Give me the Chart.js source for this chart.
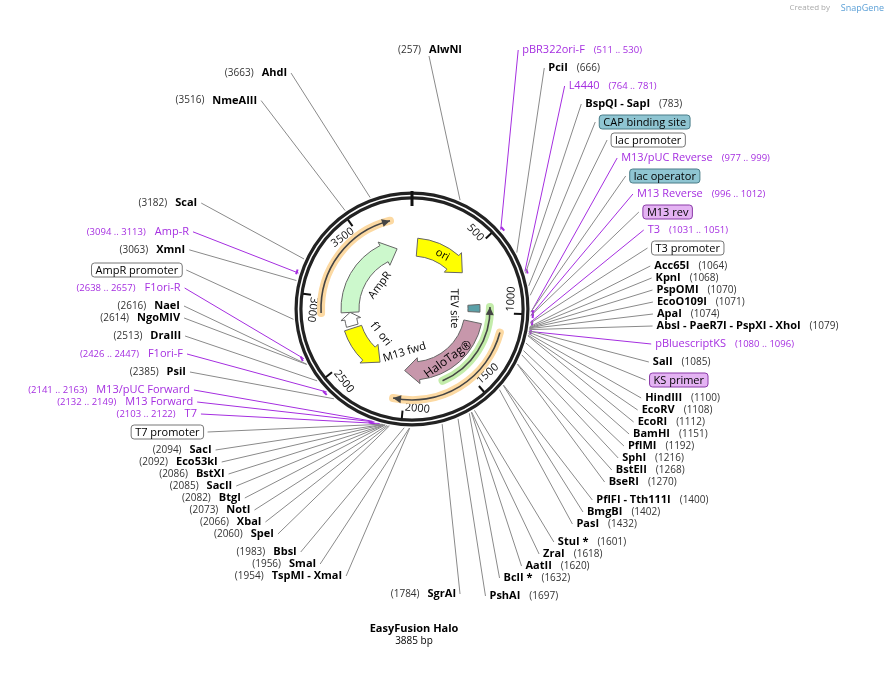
<!DOCTYPE html>
<html><head><meta charset="utf-8">
<script src="https://cdn.jsdelivr.net/npm/chart.js@4"></script>
<style>html,body{margin:0;padding:0;background:#fff}#w{width:893px;height:678px}</style>
</head><body><div id="w"><canvas id="c"></canvas></div>
<script>
const plasmidName = "EasyFusion Halo";
const plasmidLength = 3885;
const tickLabels = [500, 1000, 1500, 2000, 2500, 3000, 3500];
// right side labels: [kind, name, start, end]  kind: e=enzyme p=primer b=boxed feature
const rightLabels = [
 ["p","pBR322ori-F",511,530],["e","PciI",666],["p","L4440",764,781],["e","BspQI - SapI",783],
 ["bt","CAP binding site",850],["bw","lac promoter",900],["p","M13/pUC Reverse",977,999],
 ["bt","lac operator",985],["p","M13 Reverse",996,1012],["bp","M13 rev",1006],["p","T3",1031,1051],
 ["bw","T3 promoter",1045],["e","Acc65I",1064],["e","KpnI",1068],["e","PspOMI",1070],["e","EcoO109I",1071],
 ["e","ApaI",1074],["e","AbsI - PaeR7I - PspXI - XhoI",1079],["p","pBluescriptKS",1080,1096],["e","SalI",1085],
 ["bp","KS primer",1092],["e","HindIII",1100],["e","EcoRV",1108],["e","EcoRI",1112],["e","BamHI",1151],
 ["e","PflMI",1192],["e","SphI",1216],["e","BstEII",1268],["e","BseRI",1270],["e","PflFI - Tth111I",1400],
 ["e","BmgBI",1402],["e","PasI",1432],["e","StuI *",1601],["e","ZraI",1618],["e","AatII",1620],
 ["e","BclI *",1632],["e","PshAI",1697]
];
const leftLabels = [
 ["e","AhdI",3663],["e","NmeAIII",3516],["e","ScaI",3182],["p","Amp-R",3094,3113],["e","XmnI",3063],
 ["bw","AmpR promoter",2860],["p","F1ori-R",2638,2657],["e","NaeI",2616],["e","NgoMIV",2614],["e","DraIII",2513],
 ["p","F1ori-F",2426,2447],["e","PsiI",2385],["p","M13/pUC Forward",2141,2163],["p","M13 Forward",2132,2149],
 ["p","T7",2103,2122],["bw","T7 promoter",2098],["e","SacI",2094],["e","Eco53kI",2092],["e","BstXI",2086],
 ["e","SacII",2085],["e","BtgI",2082],["e","NotI",2073],["e","XbaI",2066],["e","SpeI",2060],["e","BbsI",1983],
 ["e","SmaI",1956],["e","TspMI - XmaI",1954],["e","SgrAI",1784]
];
const topLabels = [["e","AlwNI",257]];
// features: name, start, end, direction (1 clockwise, -1 counter)
const featureNames = ["ori","AmpR","AmpR promoter","f1 ori","HaloTag®","TEV site"];
const featureStart = [50, 2880, 2745, 2277, 1100, 930];
const featureEnd   = [585, 3735, 2880, 2720, 2016, 1000];
const featureDir   = [1, 1, 1, -1, 1, 1];
const orfNames = ["orfLeft","orfRight","orfGreen"];
const orfStart = [2886, 1133, 955];
const orfEnd   = [3734, 2072, 1694];
const orfDir   = [1, 1, -1];

const featureStyle = {
 "ori":{fill:"#ffff00",r:62,w:18,label:"ori",lr:62},
 "AmpR":{fill:"#ccf8cc",r:62,w:18,label:"AmpR",lr:40},
 "AmpR promoter":{fill:"#ffffff",r:62,w:12,label:"",lr:0},
 "f1 ori":{fill:"#ffff00",r:62,w:18,label:"f1 ori",lr:40},
 "HaloTag®":{fill:"#c797ab",r:62,w:18,label:"HaloTag®",lr:62},
 "TEV site":{fill:"#5aa0a8",r:62,w:12,label:"TEV site",lr:42}
};
const orfStyle = {orfLeft:{c:"#fcd9a2",r:91},orfRight:{c:"#fcd9a2",r:91},orfGreen:{c:"#c3ecaa",r:78}};

const CX=412, CY=309;
const purple="#a52ee0";

new Chart(document.getElementById('c'),{
 type:'scatter',
 data:{datasets:[{data:[]}]},
 options:{responsive:true,maintainAspectRatio:false,animation:false,
  layout:{padding:0},
  plugins:{legend:{display:false},tooltip:{enabled:false}},
  scales:{x:{type:'linear',min:0,max:893,display:false},y:{type:'linear',min:0,max:678,reverse:true,display:false}}},
 plugins:[{id:'map',afterDatasetsDraw(chart){
  const ctx=chart.ctx, sx=chart.scales.x, sy=chart.scales.y;
  const X=v=>sx.getPixelForValue(v), Y=v=>sy.getPixelForValue(v);
  const ang=p=>p/plasmidLength*2*Math.PI;
  const pol=(p,r)=>({x:X(CX+r*Math.sin(ang(p))),y:Y(CY-r*Math.cos(ang(p)))});
  const cx=X(CX), cy=Y(CY);
  const ca=p=>ang(p)-Math.PI/2;
  const F="'Open Sans', 'DejaVu Sans', sans-serif";

  function layout(list,side){
   const items=list.map(l=>{
    const mid=l[3]?(l[2]+l[3])/2:l[2];
    return {l,mid,ideal:CY-252*Math.cos(ang(mid))};
   });
   const gapOf=(p,q)=>(p.l[0]===q.l[0]&&(p.l[0]==="e"||p.l[0]==="p")&&Math.abs(p.l[2]-q.l[2])<60)?12:18;
   let blocks=items.map(it=>({its:[it]}));
   const place=b=>{let off=0,sum=0;b.its.forEach((it,i)=>{if(i>0)off+=gapOf(b.its[i-1],it);it.off=off;sum+=it.ideal-off;});
     b.s=off;b.top=sum/b.its.length;b.top=Math.max(50,Math.min(594-b.s,b.top));};
   blocks.forEach(place);
   let changed=true;
   while(changed){changed=false;
    for(let i=0;i<blocks.length-1;i++){
     const a=blocks[i],b=blocks[i+1];
     const gap=gapOf(a.its[a.its.length-1],b.its[0]);
     if(a.top+a.s+gap>b.top){blocks.splice(i,2,{its:a.its.concat(b.its)});place(blocks[i]);changed=true;break;}
    }}
   blocks.forEach(b=>b.its.forEach(it=>it.y=b.top+it.off));
   items.forEach(it=>{
    const dy=it.y-CY;
    if(side>0){const f=Math.sqrt(Math.max(0.1,1-(dy/290)*(dy/290)));it.x=CX+245*f;}
    else{const f=1-(dy/280)*(dy/280);const o=f>=0?232*Math.sqrt(f):-232*Math.sqrt(-f);it.x=CX-o;}
   });
   return items;
  }
  const R=layout(rightLabels,1), L=layout(leftLabels,-1);

  function leader(it,endx){
   const isP=it.l[0]==="p";
   const s=pol(it.mid,119);
   ctx.strokeStyle=isP?purple:"#8a8a8a";ctx.lineWidth=1;
   ctx.beginPath();ctx.moveTo(s.x,s.y);ctx.lineTo(X(endx),Y(it.y));ctx.stroke();
   if(isP){
    ctx.strokeStyle=purple;ctx.lineWidth=2;ctx.beginPath();
    ctx.arc(cx,cy,121,ca(it.l[2]),ca(it.l[3])+0.01);ctx.stroke();
   }
  }
  R.forEach(it=>leader(it,it.x-4));
  L.forEach(it=>leader(it,it.x+4));
  topLabels.forEach(l=>{
   const s=pol(l[2],119);ctx.strokeStyle="#8a8a8a";ctx.lineWidth=1;
   ctx.beginPath();ctx.moveTo(s.x,s.y);ctx.lineTo(X(CX+17),Y(56));ctx.stroke();
   ctx.textBaseline="middle";ctx.textAlign="right";
   ctx.fillStyle="#000";ctx.font="bold 11px "+F;ctx.fillText(l[1],X(CX+50),Y(50));
   const w=ctx.measureText(l[1]).width;ctx.fillStyle="#333";ctx.font="10px "+F;
   ctx.fillText("("+l[2]+")",X(CX+50)-w-8,Y(50));
  });

  function drawLabel(it,side){
   const l=it.l,k=l[0];const x=X(it.x),y=Y(it.y);
   ctx.textBaseline="middle";
   if(k==="e"){
    ctx.font="bold 11px "+F;const w=ctx.measureText(l[1]).width;
    const n="("+l[2]+")";
    if(side>0){ctx.textAlign="left";ctx.fillStyle="#000";ctx.font="bold 11px "+F;ctx.fillText(l[1],x,y);
      ctx.fillStyle="#333";ctx.font="10px "+F;ctx.fillText(n,x+w+9,y);}
    else{ctx.textAlign="right";ctx.fillStyle="#000";ctx.font="bold 11px "+F;ctx.fillText(l[1],x,y);
      ctx.fillStyle="#333";ctx.font="10px "+F;ctx.fillText(n,x-w-8,y);}
   } else if(k==="p"){
    ctx.font="11px "+F;const w=ctx.measureText(l[1]).width;const n="("+l[2]+" .. "+l[3]+")";
    ctx.fillStyle=purple;
    if(side>0){ctx.textAlign="left";ctx.fillText(l[1],x,y);ctx.font="9.5px "+F;ctx.fillText(n,x+w+9,y);}
    else{ctx.textAlign="right";ctx.fillText(l[1],x,y);ctx.font="9.5px "+F;ctx.fillText(n,x-w-9,y);}
   } else {
    ctx.font="11px "+F;const w=ctx.measureText(l[1]).width;
    const bx=side>0?x:x-w-8;
    const fill=k==="bt"?"#8fc5d2":k==="bp"?"#e4b3f3":"#ffffff";
    const st=k==="bt"?"#4a7d88":k==="bp"?"#8a3aa8":"#777";
    ctx.beginPath();ctx.roundRect(bx,y-7,w+8,14,3);ctx.fillStyle=fill;ctx.fill();
    ctx.strokeStyle=st;ctx.lineWidth=1;ctx.stroke();
    ctx.fillStyle="#000";ctx.textAlign="left";ctx.fillText(l[1],bx+4,y+0.5);
   }
  }
  R.forEach(it=>drawLabel(it,1));L.forEach(it=>drawLabel(it,-1));

  ctx.beginPath();ctx.arc(cx,cy,113.5,0,2*Math.PI);ctx.strokeStyle="#222";ctx.lineWidth=8;ctx.stroke();
  ctx.beginPath();ctx.arc(cx,cy,113.5,0,2*Math.PI);ctx.strokeStyle="#fff";ctx.lineWidth=1.6;ctx.stroke();
  let a=pol(0,118),b=pol(0,103);ctx.strokeStyle="#111";ctx.lineWidth=3;ctx.beginPath();ctx.moveTo(a.x,a.y);ctx.lineTo(b.x,b.y);ctx.stroke();
  tickLabels.forEach(t=>{
   const p1=pol(t,110),p2=pol(t,102);ctx.strokeStyle="#111";ctx.lineWidth=2;
   ctx.beginPath();ctx.moveTo(p1.x,p1.y);ctx.lineTo(p2.x,p2.y);ctx.stroke();
   const deg=t/plasmidLength*360;const p=pol(t,104);
   ctx.save();ctx.translate(p.x,p.y);
   ctx.font="11px "+F;ctx.fillStyle="#111";
   if(deg>90&&deg<300){ctx.rotate((deg-180)*Math.PI/180);ctx.textAlign="left";ctx.textBaseline="bottom";ctx.fillText(String(t),2,0);}
   else{ctx.rotate(deg*Math.PI/180);ctx.textAlign="right";ctx.textBaseline="top";ctx.fillText(String(t),-2,0);}
   ctx.restore();
  });

  orfNames.forEach((n,i)=>{
   const s=orfStyle[n];const a0=ca(orfStart[i]),a1=ca(orfEnd[i]);
   ctx.lineCap="round";
   ctx.beginPath();ctx.arc(cx,cy,s.r,a0,a1);ctx.strokeStyle=s.c;ctx.lineWidth=8;ctx.stroke();
   ctx.lineCap="butt";
   ctx.beginPath();ctx.arc(cx,cy,s.r,a0,a1);ctx.strokeStyle="#444";ctx.lineWidth=1.6;ctx.stroke();
   const tip=orfDir[i]>0?orfEnd[i]:orfStart[i];const tA=ang(tip);
   const d=orfDir[i];const back=tA-d*8/s.r;
   const pt=(aa,r)=>({x:cx+r*Math.sin(aa),y:cy-r*Math.cos(aa)});
   const q=pt(tA,s.r),u=pt(back,s.r+4),v=pt(back,s.r-4);
   ctx.fillStyle="#444";ctx.beginPath();ctx.moveTo(q.x,q.y);ctx.lineTo(u.x,u.y);ctx.lineTo(v.x,v.y);ctx.closePath();ctx.fill();
  });

  featureNames.forEach((n,i)=>{
   const s=featureStyle[n];const d=featureDir[i];
   const A0=ang(featureStart[i]),A1=ang(featureEnd[i]);
   const head=Math.min(14/s.r,(A1-A0)*0.5);
   const ri=s.r-s.w/2,ro=s.r+s.w/2;
   const pt=(aa,r)=>({x:cx+r*Math.sin(aa),y:cy-r*Math.cos(aa)});
   ctx.beginPath();
   if(n==="TEV site"){
    ctx.arc(cx,cy,ro,A0-Math.PI/2,A1-Math.PI/2);ctx.arc(cx,cy,ri,A1-Math.PI/2,A0-Math.PI/2,true);
   } else if(d>0){
    const hb=A1-head;
    ctx.arc(cx,cy,ro,A0-Math.PI/2,hb-Math.PI/2);
    let p=pt(hb,ro+4);ctx.lineTo(p.x,p.y);p=pt(A1,s.r);ctx.lineTo(p.x,p.y);p=pt(hb,ri-4);ctx.lineTo(p.x,p.y);
    ctx.arc(cx,cy,ri,hb-Math.PI/2,A0-Math.PI/2,true);
   } else {
    const hb=A0+head;
    ctx.arc(cx,cy,ro,hb-Math.PI/2,A1-Math.PI/2);
    ctx.arc(cx,cy,ri,A1-Math.PI/2,hb-Math.PI/2,true);
    let p=pt(hb,ri-4);ctx.lineTo(p.x,p.y);p=pt(A0,s.r);ctx.lineTo(p.x,p.y);p=pt(hb,ro+4);ctx.lineTo(p.x,p.y);
   }
   ctx.closePath();ctx.fillStyle=s.fill;ctx.fill();ctx.strokeStyle="#666";ctx.lineWidth=1;ctx.stroke();
   if(s.label){
    const m=(A0+A1)/2;const p=pt(m,s.lr);
    ctx.save();ctx.translate(p.x,p.y);
    let rot=m;const deg=m*180/Math.PI;
    if(deg>90&&deg<270)rot=m-Math.PI;
    ctx.rotate(rot);ctx.font=(n==="HaloTag®"?"12px ":"11px ")+F;ctx.fillStyle="#000";
    ctx.textAlign="center";ctx.textBaseline="middle";ctx.fillText(s.label,0,0);ctx.restore();
   }
  });
  ctx.save();const mp=pol(2140,48);ctx.translate(mp.x,mp.y);ctx.rotate(-0.3);
  ctx.font="11px "+F;ctx.fillStyle="#000";ctx.textAlign="center";ctx.textBaseline="middle";ctx.fillText("M13 fwd",8,0);ctx.restore();

  ctx.textAlign="center";ctx.textBaseline="middle";ctx.fillStyle="#000";
  ctx.font="bold 11px "+F;ctx.fillText(plasmidName,X(414),Y(629));
  ctx.font="10px "+F;ctx.fillText(plasmidLength+" bp",X(414),Y(641));
  ctx.textAlign="right";ctx.font="8px "+F;ctx.fillStyle="#aaa";ctx.fillText("Created by",X(830),Y(8));
  ctx.fillStyle="#5a9fd6";ctx.font="9px "+F;ctx.fillText("SnapGene",X(884),Y(8));
 }}]
});
</script></body></html>
